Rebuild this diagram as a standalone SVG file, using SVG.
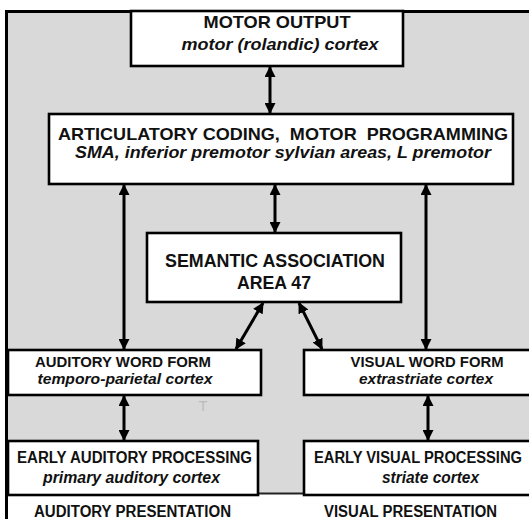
<svg xmlns="http://www.w3.org/2000/svg" width="529" height="519" viewBox="0 0 529 519">
<style>
.box{fill:#fff;stroke:#000;stroke-width:2.6}
.t{font-family:"Liberation Sans",Arial,sans-serif;fill:#111;text-anchor:middle;font-weight:bold}
.i{font-style:italic}
.con line{stroke:#000;stroke-width:3;marker-start:url(#ah);marker-end:url(#ah)}
</style>
<defs>
<marker id="ah" markerUnits="userSpaceOnUse" markerWidth="12" markerHeight="11" refX="10" refY="5.5" orient="auto-start-reverse">
<path d="M0,0 L11,5.5 L0,11 z" fill="#000"/>
</marker>
</defs>
<rect x="0" y="0" width="529" height="519" fill="#fff"/>
<g id="frame">
<rect x="8" y="13" width="530" height="481" fill="#d9d9d9"/>
<path d="M6.5,519 V11.5 H529" fill="none" stroke="#000" stroke-width="3"/>
<line x1="258" y1="493.5" x2="304" y2="493.5" stroke="#222" stroke-width="2"/>
</g>
<g class="con" id="connectors">
<line x1="270" y1="67" x2="270" y2="113"/>
<line x1="124" y1="185" x2="124" y2="349"/>
<line x1="275" y1="185" x2="275" y2="232"/>
<line x1="426" y1="185" x2="426" y2="349"/>
<line x1="263" y1="303" x2="236" y2="349"/>
<line x1="299" y1="303" x2="322" y2="349"/>
<line x1="124" y1="396" x2="124" y2="440"/>
<line x1="428" y1="396" x2="428" y2="440"/>
</g>
<g id="motor-output">
<rect class="box" x="131" y="11" width="272" height="55"/>
<text class="t" x="277" y="28" font-size="17" textLength="147" lengthAdjust="spacingAndGlyphs">MOTOR OUTPUT</text>
<text class="t i" x="280" y="50" font-size="16" textLength="197" lengthAdjust="spacingAndGlyphs">motor (rolandic) cortex</text>
</g>
<g id="articulatory">
<rect class="box" x="49" y="114" width="464" height="70"/>
<text class="t" x="283" y="140" font-size="17" textLength="450" lengthAdjust="spacingAndGlyphs" xml:space="preserve">ARTICULATORY CODING,  MOTOR  PROGRAMMING</text>
<text class="t i" x="283" y="158" font-size="16" textLength="416" lengthAdjust="spacingAndGlyphs">SMA, inferior premotor sylvian areas, L premotor</text>
</g>
<g id="semantic">
<rect class="box" x="147" y="233" width="254" height="69"/>
<text class="t" x="275" y="267" font-size="19" textLength="220" lengthAdjust="spacingAndGlyphs">SEMANTIC ASSOCIATION</text>
<text class="t" x="274" y="289" font-size="19" textLength="74" lengthAdjust="spacingAndGlyphs">AREA 47</text>
</g>
<g id="auditory-word-form">
<rect class="box" x="8" y="350" width="253" height="45"/>
<text class="t" x="123" y="367" font-size="15" textLength="176" lengthAdjust="spacingAndGlyphs">AUDITORY WORD FORM</text>
<text class="t i" x="125" y="384" font-size="15" textLength="175" lengthAdjust="spacingAndGlyphs">temporo-parietal cortex</text>
</g>
<g id="visual-word-form">
<rect class="box" x="304" y="350" width="232" height="45"/>
<text class="t" x="427" y="367" font-size="15" textLength="153" lengthAdjust="spacingAndGlyphs">VISUAL WORD FORM</text>
<text class="t i" x="426" y="384" font-size="15" textLength="134" lengthAdjust="spacingAndGlyphs">extrastriate cortex</text>
</g>
<g id="early-auditory">
<rect class="box" x="8" y="441" width="250" height="54"/>
<text class="t" x="134.5" y="463" font-size="16" textLength="235" lengthAdjust="spacingAndGlyphs">EARLY AUDITORY PROCESSING</text>
<text class="t i" x="131.5" y="483" font-size="16" textLength="177" lengthAdjust="spacingAndGlyphs">primary auditory cortex</text>
</g>
<g id="early-visual">
<rect class="box" x="304" y="441" width="232" height="54"/>
<text class="t" x="418" y="463" font-size="16" textLength="208" lengthAdjust="spacingAndGlyphs">EARLY VISUAL PROCESSING</text>
<text class="t i" x="430.5" y="483" font-size="16" textLength="97" lengthAdjust="spacingAndGlyphs">striate cortex</text>
</g>
<g id="auditory-presentation">
<text class="t" x="132.5" y="517" font-size="16" textLength="197" lengthAdjust="spacingAndGlyphs">AUDITORY PRESENTATION</text>
</g>
<g id="visual-presentation">
<text class="t" x="410.5" y="517" font-size="16" textLength="173" lengthAdjust="spacingAndGlyphs">VISUAL PRESENTATION</text>
</g>
<text x="203" y="411" font-family="Liberation Sans,Arial,sans-serif" font-size="14" fill="#bbb" text-anchor="middle">T</text>
</svg>
